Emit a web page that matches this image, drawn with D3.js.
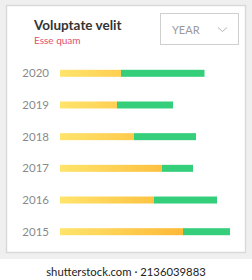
<!DOCTYPE html>
<html>
<head>
<meta charset="utf-8">
<script src="https://cdn.jsdelivr.net/npm/d3@7"></script>
<style>
html,body{margin:0;padding:0;background:#fff;}
svg{display:block;font-family:Lato, "Noto Sans", sans-serif;}
</style>
</head>
<body>
<svg id="chart" width="252" height="280"></svg>
<script>
const years = ["2020", "2019", "2018", "2017", "2016", "2015"];
const yellowValues = [61, 57, 74, 102, 94, 123];
const greenValues = [83.5, 56, 62, 31, 63, 47];
const title = "Voluptate velit";
const subtitle = "Esse quam";
const dropdownLabel = "YEAR";
const watermark = "shutterstock.com · 2136039883";

const svg = d3.select("#chart");
const W = 252, H = 280;

svg.append("rect").attr("x", 0).attr("y", 0).attr("width", W).attr("height", 259).attr("fill", "#efefef");
svg.append("rect").attr("x", 6.5).attr("y", 5.5).attr("width", 239).attr("height", 247)
  .attr("fill", "#fff").attr("stroke", "#d9d9d9").attr("stroke-width", 1.5);

svg.append("text").attr("x", 34).attr("y", 30).text(title)
  .attr("font-size", 13.5).attr("font-weight", 700).attr("fill", "#333");
svg.append("text").attr("x", 34).attr("y", 44).text(subtitle)
  .attr("font-size", 10).attr("fill", "#e0506c");

// dropdown
svg.append("rect").attr("x", 160.5).attr("y", 13.5).attr("width", 78).attr("height", 31)
  .attr("fill", "#fff").attr("stroke", "#cfcfcf").attr("stroke-width", 1);
svg.append("text").attr("x", 172).attr("y", 33.5).text(dropdownLabel)
  .attr("font-size", 11).attr("fill", "#9a9a9a");
svg.append("path").attr("d", "M218,27.5 L222.5,31.5 L227,27.5")
  .attr("fill", "none").attr("stroke", "#aaa").attr("stroke-width", 0.9);

const x = d3.scaleLinear().domain([0, 170]).range([60, 230]);
const y = d3.scalePoint().domain(years).range([73.3, 231.7]);
const barH = 7;

const defs = svg.append("defs");
const grad = defs.append("linearGradient").attr("id", "yg")
  .attr("gradientUnits", "userSpaceOnUse")
  .attr("x1", x(0)).attr("x2", x(125)).attr("y1", 0).attr("y2", 0);
grad.append("stop").attr("offset", "0%").attr("stop-color", "#ffe46c");
grad.append("stop").attr("offset", "100%").attr("stop-color", "#fdb836");

const rows = svg.append("g").selectAll("g").data(years).join("g");

rows.append("text")
  .attr("x", 49).attr("y", d => y(d) + 4)
  .attr("text-anchor", "end").attr("font-size", 11.5).attr("fill", "#8a8a8a")
  .text(d => d);

rows.append("rect")
  .attr("x", x(0)).attr("y", d => y(d) - barH / 2)
  .attr("width", (d, i) => x(yellowValues[i]) - x(0)).attr("height", barH)
  .attr("fill", "url(#yg)");

rows.append("rect")
  .attr("x", (d, i) => x(yellowValues[i])).attr("y", d => y(d) - barH / 2)
  .attr("width", (d, i) => x(yellowValues[i] + greenValues[i]) - x(yellowValues[i])).attr("height", barH)
  .attr("fill", "#35cf7c");

svg.append("text").attr("x", 126).attr("y", 275.5).attr("text-anchor", "middle")
  .attr("font-size", 11.3).attr("fill", "#222").text(watermark);
</script>
</body>
</html>
